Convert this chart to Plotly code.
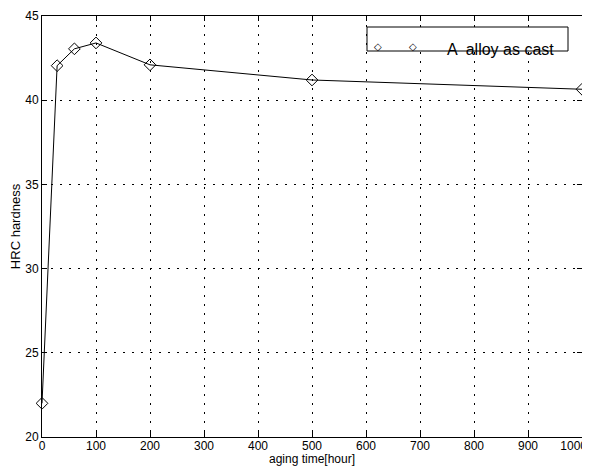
import plotly.graph_objects as go

aging_time = [0, 28, 60, 100, 200, 500, 1000]
hrc_hardness = [22.0, 42.05, 43.05, 43.4, 42.1, 41.2, 40.65]
x_ticks = [0, 100, 200, 300, 400, 500, 600, 700, 800, 900, 1000]
y_ticks = [20, 25, 30, 35, 40, 45]
series_name = "A  alloy as cast"
x_title = "aging time[hour]"
y_title = "HRC hardness"

FONT = "Liberation Sans, Arial, sans-serif"

# last label padded on its right so that it sits a little further left
x_tick_text = [str(v) for v in x_ticks]
x_tick_text[-1] = x_tick_text[-1] + "\u00a0" * 5

fig = go.Figure()
fig.add_trace(go.Scatter(
    x=aging_time, y=hrc_hardness, mode="lines+markers",
    line=dict(color="black", width=1),
    marker=dict(symbol="diamond-open", size=9, color="black", line=dict(width=1)),
    showlegend=False, cliponaxis=False,
))

axis_common = dict(
    showline=True, linecolor="black", linewidth=1, mirror="allticks",
    ticks="inside", ticklen=5, tickcolor="black",
    showgrid=True, gridcolor="black", gridwidth=1, griddash="2px,7px",
    zeroline=False, tickfont=dict(family=FONT, size=12, color="black"),
    ticklabeloverflow="allow",
)

fig.update_xaxes(range=[0, 1000], tickvals=x_ticks, ticktext=x_tick_text,
                 **axis_common, ticklabelstandoff=-2)
fig.update_yaxes(range=[20, 45], tickvals=y_ticks, **axis_common,
                 title=dict(text=y_title, font=dict(family=FONT, size=13, color="black"), standoff=3))

# paper coords: plot spans x 42..582, y 16..437 on screen
def px(x):
    return (x - 42) / 540

def py(y):
    return (437 - y) / 421

fig.add_annotation(xref="paper", yref="paper", x=0.5, y=py(459), yanchor="middle",
                   text=x_title, showarrow=False,
                   font=dict(family=FONT, size=12, color="black"))

# legend box
fig.add_shape(type="rect", xref="paper", yref="paper",
              x0=px(367), x1=px(568), y0=py(51), y1=py(27),
              line=dict(color="black", width=1), fillcolor="white", layer="above")
for lx in (378, 419):
    fig.add_annotation(xref="paper", yref="paper", x=px(lx), y=py(39),
                       text="◇", showarrow=False,
                       font=dict(family="DejaVu Sans", size=10, color="black"))
fig.add_annotation(xref="paper", yref="paper", x=px(445), y=py(39),
                   xanchor="left", text=series_name, showarrow=False,
                   font=dict(family=FONT, size=16, color="black"))

fig.update_layout(
    width=582, height=458,
    margin=dict(l=34, r=8, t=8, b=29, autoexpand=False),
    paper_bgcolor="white", plot_bgcolor="white",
    font=dict(family=FONT, color="black"),
)

fig.write_html("out.html")
